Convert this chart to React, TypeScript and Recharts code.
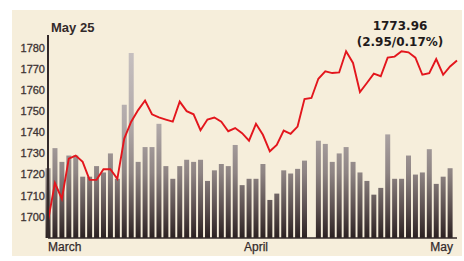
import { ComposedChart, Bar, Line, XAxis, YAxis } from "recharts";

// daily closing index, March 1 .. May 25
const closeValues = [
  1698, 1716, 1708.5, 1727.5, 1729, 1726, 1717.5, 1717.5, 1722.5, 1722.5,
  1718, 1737, 1745, 1750.5, 1755, 1748.5, 1747, 1746, 1745, 1754.5,
  1750, 1748.5, 1741, 1746, 1747, 1745, 1740.5, 1742, 1739.6, 1736,
  1744, 1738.8, 1731, 1734, 1740.8, 1739.3, 1742.7, 1755.7, 1756.2, 1765.3,
  1768.8, 1768, 1768.3, 1778.3, 1772.8, 1759, 1763.3, 1767.7, 1766.5, 1775.3,
  1775.8, 1778.3, 1777.8, 1775.3, 1767.2, 1768, 1774.6, 1767.2, 1771.1, 1773.96,
];

// grey volume bars (top of each bar)
const volumeBars = [
  1723, 1732.5, 1726, 1729, 1729, 1719, 1719, 1724, 1721, 1730,
  1718, 1753, 1777.5, 1726, 1733, 1733, 1744, 1724, 1718, 1724,
  1727, 1726, 1727, 1717, 1722, 1725, 1724, 1734, 1715, 1718,
  1718, 1725, 1708, 1711, 1722, 1720.5, 1722.7, 1726.6, null, 1736,
  1734.5, 1726, 1730, 1733, 1726, 1721, 1717, 1710.5, 1713.7, 1739,
  1718, 1718, 1729, 1720, 1721, 1732, 1715.6, 1719, 1723, null,
];

const yTicks = [1700, 1710, 1720, 1730, 1740, 1750, 1760, 1770, 1780];
const monthTicks = [0, 30, 59];
const monthLabels = ["March", "April", "May"];

const dateLabel = "May 25";
const lastClose = "1773.96";
const lastChange = "(2.95/0.17%)";

const RED = "#e3161d";
const INK = "#332a2a";
const PAPER = "#f6eedb";
const FONT = "'Liberation Sans', Arial, sans-serif";

const data = closeValues.map((close, i) => ({ i, close, volume: volumeBars[i] }));

function MonthTick(props: any) {
  const { x, y, payload } = props;
  const k = monthTicks.indexOf(payload.value);
  const anchor = k === 0 ? "start" : k === monthTicks.length - 1 ? "end" : "middle";
  return (
    <text
      x={anchor === "end" ? x - 4 : x}
      y={y}
      dy={13}
      textAnchor={anchor}
      fill={INK}
      fontSize={12}
      fontFamily={FONT}
      stroke={INK}
      strokeWidth={0.25}
    >
      {monthLabels[k]}
    </text>
  );
}

export default function App() {
  return (
    <div style={{ position: "absolute", left: 0, top: 0, width: 464, height: 261, background: "#fff" }}>
      <div
        style={{
          position: "absolute",
          left: 12,
          top: 10,
          width: 450,
          height: 246,
          background: PAPER,
        }}
      />
      <div style={{ position: "absolute", left: 0, top: 0 }}>
        <ComposedChart
          width={464}
          height={261}
          data={data}
          margin={{ top: 35, right: 7, bottom: 0, left: 0 }}
        >
          <defs>
            <linearGradient id="volFill" gradientUnits="userSpaceOnUse" x1="0" y1="35" x2="0" y2="238">
              <stop offset="0%" stopColor="#cbc5c5" />
              <stop offset="45%" stopColor="#b0a8a8" />
              <stop offset="68%" stopColor="#8e8483" />
              <stop offset="86%" stopColor="#5a4e4e" />
              <stop offset="100%" stopColor="#2b2121" />
            </linearGradient>
          </defs>
          <XAxis
            dataKey="i"
            type="number"
            domain={[0, 59]}
            ticks={monthTicks}
            tick={<MonthTick />}
            height={23}
            tickLine={false}
            tickSize={0}
            tickMargin={0}
            axisLine={{ stroke: INK, strokeWidth: 1.5 }}
            interval={0}
          />
          <YAxis
            domain={[1690, 1786]}
            ticks={yTicks}
            allowDataOverflow
            width={48}
            tickLine={false}
            tickSize={0}
            tickMargin={3}
            axisLine={{ stroke: INK, strokeWidth: 2 }}
            tick={{ fontSize: 11, fill: "#3d3434", fontFamily: FONT, stroke: "#3d3434", strokeWidth: 0.3 }}
            interval={0}
          />
          <Bar dataKey="volume" fill="url(#volFill)" barSize={5} isAnimationActive={false} />
          <Line
            dataKey="close"
            type="linear"
            stroke={RED}
            strokeWidth={1.9}
            dot={false}
            activeDot={false}
            isAnimationActive={false}
          />
        </ComposedChart>
      </div>
      <div
        style={{
          position: "absolute",
          left: 51,
          top: 20,
          fontFamily: FONT,
          fontWeight: 700,
          fontSize: 13,
          color: INK,
          lineHeight: "16px",
        }}
      >
        {dateLabel}
      </div>
      <div
        style={{
          position: "absolute",
          left: 340,
          width: 120,
          top: 18,
          textAlign: "center",
          fontFamily: "'DejaVu Sans', sans-serif",
          fontWeight: 700,
          fontSize: 12,
          color: "#221a1a",
          lineHeight: "16px",
        }}
      >
        <div>{lastClose}</div>
        <div>{lastChange}</div>
      </div>
    </div>
  );
}
